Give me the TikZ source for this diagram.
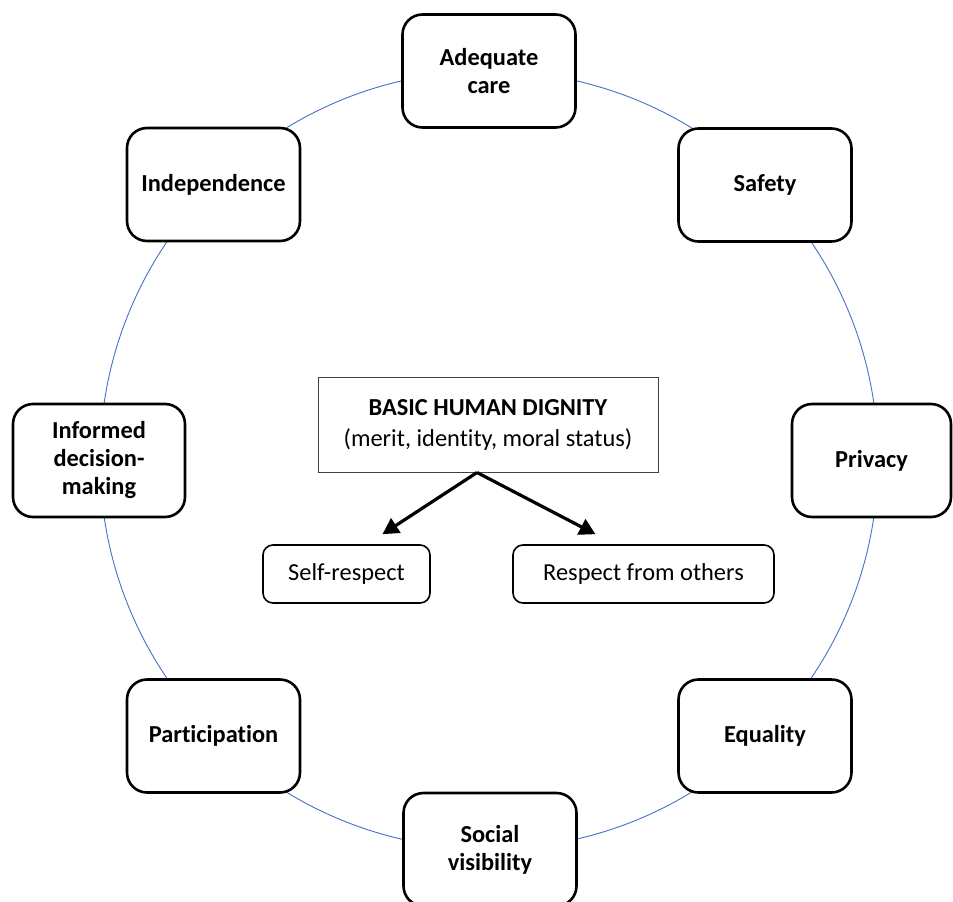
\documentclass[tikz,border=0pt]{standalone}
\usepackage{fontspec}
\setmainfont{Carlito}[Ligatures=NoCommon,RawFeature=-liga]
\usetikzlibrary{arrows.meta,calc}
\definecolor{ringblue}{RGB}{68,114,196}
\tikzset{
  valuebox/.style={draw=black, line width=2.6pt, rounded corners=20pt, fill=white,
    minimum width=173pt, minimum height=113pt, inner sep=0pt, align=center,
    font=\fontsize{24.4}{28}\selectfont\bfseries},
  corebox/.style={draw=black!75, line width=1pt, fill=white,
    minimum width=340pt, minimum height=95pt, inner sep=0pt, align=center,
    font=\fontsize{24.4}{31}\selectfont},
  respbox/.style={draw=black, line width=1.6pt, rounded corners=10pt, fill=white,
    minimum height=58pt, inner sep=0pt, align=center,
    font=\fontsize{24.4}{29}\selectfont},
  arr/.style={line width=3.2pt, -{Triangle[length=16pt,width=17pt]}},
  ring/.style={draw=ringblue, line width=0.9pt}
}
\begin{document}
\begin{tikzpicture}[x=1pt,y=-1pt]
\clip (0,0) rectangle (953,902);
\fill[white] (0,0) rectangle (953,902);
\draw[ring] (489,460) circle[radius=389pt];
\node[valuebox] (care) at (489,71) {Adequate\\care};
\node[valuebox] (safety) at (765,185) {Safety};
\node[valuebox, minimum width=159pt] (privacy) at (871.5,460.5) {Privacy};
\node[valuebox] (equality) at (765,736) {Equality};
\node[valuebox] (social) at (490,849.5) {Social\\visibility};
\node[valuebox] (particip) at (213.5,736) {Participation};
\node[valuebox, minimum width=172pt] (informed) at (99,460.5) {Informed\\decision-\\making};
\node[valuebox] (indep) at (213.5,184.5) {Independence};
\node[corebox] (core) at (488,424.5) {\textbf{BASIC HUMAN DIGNITY}\\(merit, identity, moral status)};
\node[respbox, minimum width=167pt] (self) at (346.5,574) {Self-respect};
\node[respbox, minimum width=261pt] (others) at (643.5,574) {Respect from others};
\coordinate (split) at ($(core.south)+(-11,0)$);
\coordinate (selftip) at ($(self.north)+(36,-10)$);
\coordinate (othertip) at ($(others.north)+(-48,-10)$);
\draw[arr] (split) -- (selftip);
\draw[arr] (split) -- (othertip);
\end{tikzpicture}
\end{document}
